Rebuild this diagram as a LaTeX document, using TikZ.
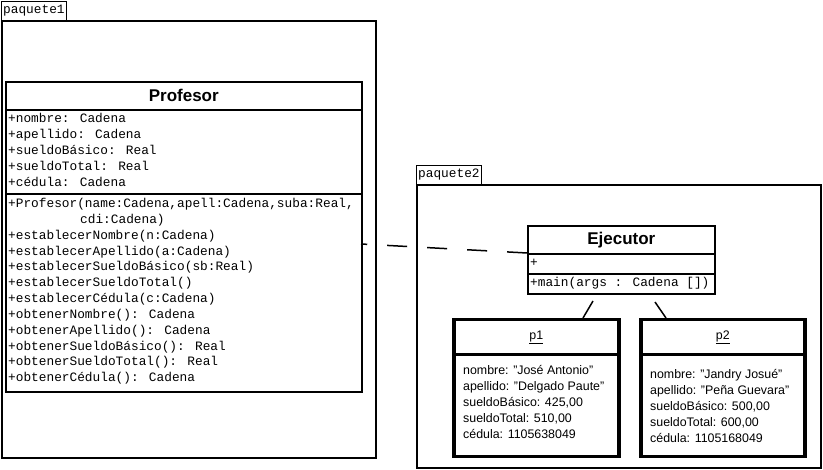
\documentclass[tikz,border=0pt]{standalone}
\usepackage{fontspec}
\setmainfont{Liberation Sans}
\newfontfamily\monof{Liberation Mono}
\tikzset{
  pkg/.style={draw, line width=1.8pt, anchor=north west, inner sep=0},
  tabbox/.style={draw, line width=1.2pt, anchor=north west, inner sep=0},
  cls/.style={draw, line width=1.6pt, anchor=north west, inner sep=0},
  obj/.style={draw, line width=3.5pt, anchor=north west, inner sep=0},
  mtxt/.style={font=\monof\fontsize{12.8}{15}\selectfont, anchor=west, inner sep=0, text height=9pt, text depth=3pt},
  stxt/.style={font=\fontsize{12.4}{15}\selectfont, anchor=west, inner sep=0, text height=9pt, text depth=3pt},
  otitle/.style={font=\fontsize{12.4}{15}\selectfont, inner sep=0},
  ttl/.style={font=\bfseries\fontsize{17}{20}\selectfont, inner sep=0},
  dep/.style={line width=1.5pt, dash pattern=on 20pt off 20pt},
  lnk/.style={line width=1.5pt},
}
\begin{document}
\begin{tikzpicture}[x=1pt, y=-1pt]
\useasboundingbox (0,0) rectangle (823,470);
% paquete1
\node[pkg, minimum width=374, minimum height=437] (pk1) at (1,20) {};
\node[tabbox, minimum width=65, minimum height=19] (tab1) at (1,1) {};
\node[mtxt] (tab1t) at (3,11) {paquete1};
% Profesor
\node[cls, minimum width=356, minimum height=28] (profh) at (5,81) {};
\node[ttl] (profn) at (profh.center) {Profesor};
\node[cls, minimum width=356, minimum height=84] (profa) at (5,109) {};
\node[cls, minimum width=356, minimum height=198] (profm) at (5,193) {};
\foreach \t [count=\i] in {{+nombre: Cadena},{+apellido: Cadena},{+sueldoBásico: Real},{+sueldoTotal: Real},{+cédula: Cadena}}
  \node[mtxt] (pa\i) at (8,{119.5+16*(\i-1)}) {\t};
\foreach \t [count=\i] in {{+Profesor(name:Cadena,apell:Cadena,suba:Real,},{\hspace{72pt}cdi:Cadena)},{+establecerNombre(n:Cadena)},{+establecerApellido(a:Cadena)},{+establecerSueldoBásico(sb:Real)},{+establecerSueldoTotal()},{+establecerCédula(c:Cadena)},{+obtenerNombre(): Cadena},{+obtenerApellido(): Cadena},{+obtenerSueldoBásico(): Real},{+obtenerSueldoTotal(): Real},{+obtenerCédula(): Cadena}}
  \node[mtxt] (pm\i) at (8,{204.5+15.85*(\i-1)}) {\t};
% paquete2
\node[pkg, minimum width=404, minimum height=283] (pk2) at (416,184) {};
\node[tabbox, minimum width=65, minimum height=19] (tab2) at (416,165) {};
\node[mtxt] (tab2t) at (418,175) {paquete2};
% Ejecutor
\node[cls, minimum width=187, minimum height=28] (ejh) at (527,225) {};
\node[ttl] (ejn) at (ejh.center) {Ejecutor};
\node[cls, minimum width=187, minimum height=20] (eja) at (527,253) {};
\node[cls, minimum width=187, minimum height=20] (ejm) at (527,273) {};
\node[mtxt] (ejplus) at (530,263.5) {+};
\node[mtxt] (ejmain) at (530,284) {+main(args : Cadena [])};
% dependency
\coordinate (depend) at (361,244);
\draw[dep] (eja.north west) -- (depend);
% p1
\node[obj, minimum width=165, minimum height=35] (p1h) at (452,318) {};
\node[otitle] (p1n) at (p1h.center) {\underline{p1}};
\node[obj, minimum width=165, minimum height=102] (p1b) at (452,353) {};
\foreach \t [count=\i] in {{nombre: "José Antonio"},{apellido: "Delgado Paute"},{sueldoBásico: 425,00},{sueldoTotal: 510,00},{cédula: 1105638049}}
  \node[stxt] (p1t\i) at (463,{372+16*(\i-1)}) {\t};
% p2
\node[obj, minimum width=164, minimum height=35] (p2h) at (639,318) {};
\node[otitle] (p2n) at (p2h.center) {\underline{p2}};
\node[obj, minimum width=164, minimum height=102] (p2b) at (639,353) {};
\foreach \t [count=\i] in {{nombre: "Jandry Josué"},{apellido: "Peña Guevara"},{sueldoBásico: 500,00},{sueldoTotal: 600,00},{cédula: 1105168049}}
  \node[stxt] (p2t\i) at (650,{376+16*(\i-1)}) {\t};
% links
\coordinate (l1a) at (593,301);
\coordinate (l1b) at (583,318);
\coordinate (l2a) at (655,302);
\coordinate (l2b) at (666,318);
\draw[lnk] (l1a) -- (l1b);
\draw[lnk] (l2a) -- (l2b);
\end{tikzpicture}
\end{document}
